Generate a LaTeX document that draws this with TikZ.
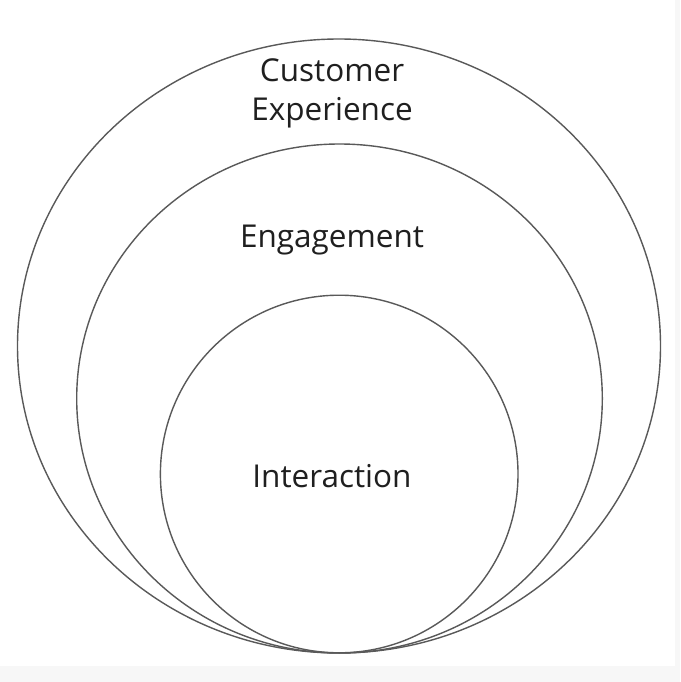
\documentclass[tikz,border=0pt]{standalone}
\usepackage{fontspec}
\setmainfont{Open Sans}
\usepackage{tikz}

\begin{document}
\begin{tikzpicture}[x=1pt,y=-1pt,
    ring/.style={draw=black!65,line width=1.4pt},
    label/.style={font=\fontsize{31.5}{39}\selectfont,text=black!88,align=center,inner sep=0pt,anchor=base}]
  % page and white card
  \fill[black!3] (0,0) rectangle (680,682);
  \fill[white] (0,0) rectangle (675,666);
  \useasboundingbox (0,0) rectangle (680,682);
  % rings, all touching at the bottom
  \draw[ring] (339,346) ellipse [x radius=321.5,y radius=307];
  \draw[ring] (339.5,398.5) ellipse [x radius=262.8,y radius=254.5];
  \draw[ring] (339.2,474) circle [radius=178.8];
  % labels
  \node[label] (cx1) at (332,82) {Customer};
  \node[label] (cx2) at (332,121) {Experience};
  \node[label] (eng) at (332,247) {Engagement};
  \node[label] (int) at (332,487) {Interaction};
\end{tikzpicture}
\end{document}
